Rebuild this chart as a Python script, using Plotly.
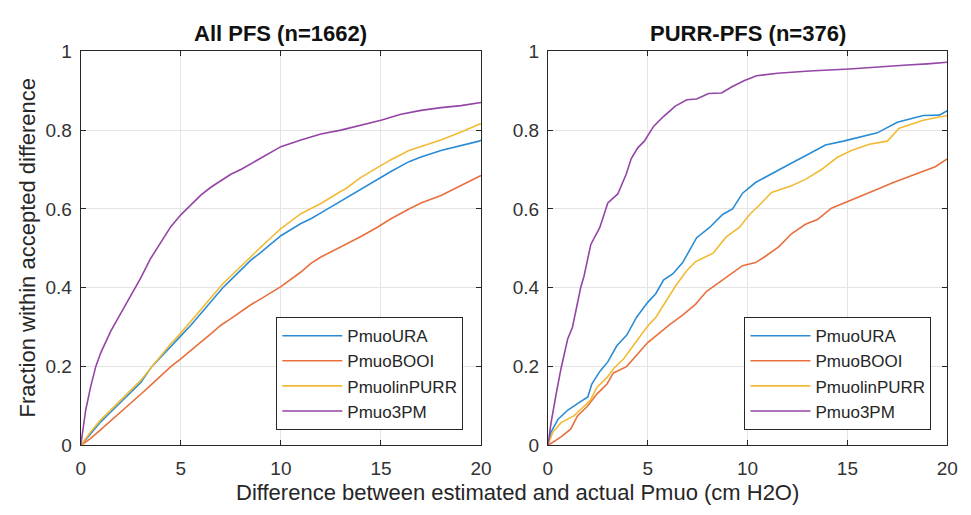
import plotly.graph_objects as go

W, H = 971, 515

# ---------------- data: All PFS (n=1662) ----------------
left_ura_x = [0, 0.5, 1, 1.5, 2, 2.5, 3, 3.55, 4, 4.5, 5, 5.5, 6, 6.5, 7.1, 7.5, 8, 8.5, 9, 9.5, 10, 11, 11.5, 12, 13, 13.2, 14, 14.8, 15.5, 16.4, 17, 18, 19, 19.9, 20]
left_ura_y = [0, 0.03, 0.06, 0.085, 0.11, 0.135, 0.16, 0.2, 0.225, 0.25, 0.278, 0.305, 0.335, 0.365, 0.40, 0.42, 0.445, 0.47, 0.49, 0.51, 0.532, 0.563, 0.575, 0.59, 0.62, 0.626, 0.65, 0.675, 0.695, 0.72, 0.732, 0.748, 0.76, 0.772, 0.774]

left_booi_x = [0, 0.5, 1, 1.5, 2, 2.5, 3, 3.5, 4, 4.5, 5, 5.5, 6, 6.5, 7, 7.5, 8, 8.5, 9, 9.5, 10, 11, 11.5, 12, 13, 13.2, 14, 14.8, 15.5, 16.4, 17, 18, 19, 19.9, 20]
left_booi_y = [0, 0.018, 0.04, 0.062, 0.085, 0.108, 0.13, 0.153, 0.177, 0.2, 0.22, 0.24, 0.262, 0.283, 0.305, 0.322, 0.34, 0.357, 0.372, 0.387, 0.403, 0.44, 0.462, 0.478, 0.503, 0.508, 0.53, 0.553, 0.575, 0.60, 0.615, 0.634, 0.66, 0.683, 0.685]

left_lin_x = [0, 0.5, 1, 1.5, 2, 2.5, 3, 3.55, 4, 4.5, 5, 5.5, 6, 6.5, 7.1, 7.5, 8, 8.5, 9, 9.5, 10, 11, 11.5, 12, 13, 13.2, 14, 14.8, 15.5, 16.4, 17, 18, 19, 19.9, 20]
left_lin_y = [0, 0.035, 0.065, 0.09, 0.115, 0.14, 0.165, 0.2, 0.228, 0.258, 0.285, 0.315, 0.345, 0.375, 0.41, 0.43, 0.455, 0.48, 0.503, 0.527, 0.55, 0.588, 0.600, 0.614, 0.645, 0.65, 0.68, 0.703, 0.725, 0.748, 0.758, 0.775, 0.795, 0.815, 0.817]

left_3pm_x = [0, 0.25, 0.5, 0.75, 1, 1.5, 2, 2.5, 3, 3.5, 4, 4.5, 5, 5.5, 6, 6.5, 7, 7.5, 8, 8.5, 9, 9.5, 10, 11, 12, 13, 14, 15, 16, 17, 18, 19, 20]
left_3pm_y = [0, 0.09, 0.15, 0.2, 0.235, 0.29, 0.335, 0.38, 0.425, 0.475, 0.515, 0.555, 0.585, 0.61, 0.635, 0.655, 0.672, 0.688, 0.70, 0.715, 0.73, 0.745, 0.758, 0.775, 0.79, 0.80, 0.812, 0.825, 0.84, 0.85, 0.857, 0.862, 0.87]

# ---------------- data: PURR-PFS (n=376) ----------------
right_ura_x = [0, 0.16, 0.5, 1, 1.5, 2, 2.2, 2.6, 3, 3.45, 3.95, 4.45, 5, 5.4, 5.8, 6.25, 6.75, 7.05, 7.45, 8.1, 8.75, 9.25, 9.75, 10.4, 11.2, 12, 12.9, 13.9, 14.8, 15.5, 16.5, 17.5, 18.8, 19.6, 20]
right_ura_y = [0, 0.034, 0.066, 0.09, 0.107, 0.123, 0.156, 0.188, 0.212, 0.253, 0.28, 0.326, 0.363, 0.385, 0.42, 0.435, 0.464, 0.49, 0.527, 0.553, 0.586, 0.60, 0.64, 0.667, 0.69, 0.711, 0.735, 0.762, 0.772, 0.78, 0.793, 0.82, 0.837, 0.838, 0.849]

right_booi_x = [0, 0.33, 0.66, 1.15, 1.48, 1.97, 2.46, 2.96, 3.28, 3.94, 4.43, 5, 5.58, 6.08, 6.73, 7.39, 7.95, 8.6, 9.26, 9.75, 10.4, 10.9, 11.56, 12.2, 12.9, 13.5, 14.2, 15.2, 16.5, 17.3, 18.4, 19.4, 20]
right_booi_y = [0, 0.01, 0.022, 0.042, 0.075, 0.099, 0.131, 0.156, 0.184, 0.2, 0.229, 0.261, 0.285, 0.306, 0.33, 0.358, 0.391, 0.415, 0.44, 0.456, 0.464, 0.48, 0.504, 0.537, 0.561, 0.573, 0.602, 0.622, 0.65, 0.667, 0.687, 0.707, 0.727]

right_lin_x = [0, 0.25, 0.66, 1.3, 1.8, 2.13, 2.46, 2.96, 3.3, 3.8, 4.27, 4.76, 5, 5.42, 5.91, 6.4, 6.96, 7.4, 7.62, 8.28, 8.93, 9.59, 10.1, 10.6, 11.2, 12.2, 12.9, 13.7, 14.5, 15.2, 16.1, 17.0, 17.6, 18.8, 20]
right_lin_y = [0, 0.034, 0.058, 0.075, 0.099, 0.115, 0.148, 0.172, 0.196, 0.22, 0.253, 0.285, 0.303, 0.326, 0.367, 0.405, 0.444, 0.466, 0.472, 0.488, 0.529, 0.553, 0.586, 0.61, 0.642, 0.659, 0.675, 0.70, 0.731, 0.748, 0.764, 0.772, 0.805, 0.825, 0.837]

right_3pm_x = [0, 0.16, 0.41, 0.66, 0.99, 1.23, 1.64, 1.81, 2.15, 2.6, 3.0, 3.5, 3.92, 4.17, 4.5, 4.83, 5.3, 5.8, 6.38, 6.96, 7.45, 8.05, 8.7, 9.22, 9.85, 10.45, 11.5, 13.1, 15.1, 16.4, 18.0, 19.0, 20]
right_3pm_y = [0, 0.058, 0.13, 0.196, 0.27, 0.30, 0.40, 0.43, 0.51, 0.553, 0.615, 0.638, 0.688, 0.727, 0.755, 0.772, 0.81, 0.835, 0.861, 0.877, 0.879, 0.893, 0.894, 0.91, 0.926, 0.938, 0.944, 0.95, 0.955, 0.96, 0.965, 0.968, 0.972]

series_names = ["PmuoURA", "PmuoBOOI", "PmuolinPURR", "Pmuo3PM"]
colors = ["#2b8cd4", "#e8703f", "#f2bb35", "#9445a6"]
titles = ["All PFS (n=1662)", "PURR-PFS (n=376)"]
x_ticks = [0, 5, 10, 15, 20]
y_ticks = [0, 0.2, 0.4, 0.6, 0.8, 1]
y_ticktext = ["0", "0.2", "0.4", "0.6", "0.8", "1"]
x_label = "Difference between estimated and actual Pmuo (cm H2O)"
y_label = "Fraction within accepted difference"

left_data = [(left_ura_x, left_ura_y), (left_booi_x, left_booi_y), (left_lin_x, left_lin_y), (left_3pm_x, left_3pm_y)]
right_data = [(right_ura_x, right_ura_y), (right_booi_x, right_booi_y), (right_lin_x, right_lin_y), (right_3pm_x, right_3pm_y)]

FONT = "Liberation Sans, Arial, sans-serif"

fig = go.Figure()
for (xs, ys), name, col in zip(left_data, series_names, colors):
    fig.add_trace(go.Scatter(x=xs, y=ys, mode="lines", name=name,
                             line=dict(color=col, width=1.6),
                             xaxis="x", yaxis="y", legend="legend"))
for (xs, ys), name, col in zip(right_data, series_names, colors):
    fig.add_trace(go.Scatter(x=xs, y=ys, mode="lines", name=name,
                             line=dict(color=col, width=1.6),
                             xaxis="x2", yaxis="y2", legend="legend2"))

def px_x(p):
    return p / W

def px_y(p):
    return 1 - p / H

ax_common = dict(ticks="inside", ticklen=5, tickcolor="#262626",
                 showline=True, linecolor="#262626", linewidth=1, mirror="ticks",
                 showgrid=True, gridcolor="#e4e4e4", gridwidth=1, zeroline=False,
                 tickfont=dict(family=FONT, size=19, color="#333333"))

xdom1 = [px_x(77), px_x(484)]
xdom2 = [px_x(552), px_x(958)]
ydom = [px_y(454), px_y(43)]

legend_common = dict(yanchor="bottom", y=px_y(438), xanchor="right",
                     bordercolor="#262626", borderwidth=1, bgcolor="white",
                     font=dict(family=FONT, size=17, color="#262626"), itemwidth=60,
                     tracegroupgap=0)

fig.update_layout(
    width=W, height=H,
    margin=dict(l=0, r=0, t=0, b=0),
    paper_bgcolor="white", plot_bgcolor="white",
    xaxis=dict(domain=xdom1, range=[0, 20], tickvals=x_ticks, anchor="y", ticklabelstandoff=6, **ax_common),
    yaxis=dict(domain=ydom, range=[0, 1], tickvals=y_ticks, ticktext=y_ticktext, anchor="x", ticklabelstandoff=4, **ax_common),
    xaxis2=dict(domain=xdom2, range=[0, 20], tickvals=x_ticks, anchor="y2", ticklabelstandoff=6, **ax_common),
    yaxis2=dict(domain=ydom, range=[0, 1], tickvals=y_ticks, ticktext=y_ticktext, anchor="x2", ticklabelstandoff=4, **ax_common),
    legend=dict(x=px_x(466), **legend_common),
    legend2=dict(x=px_x(942), **legend_common),
    annotations=[
        dict(text="<b>%s</b>" % titles[0], x=px_x(280), y=px_y(25), xref="paper", yref="paper",
             xanchor="center", yanchor="middle",
             showarrow=False, font=dict(family=FONT, size=22, color="#111111")),
        dict(text="<b>%s</b>" % titles[1], x=px_x(755), y=px_y(25), xref="paper", yref="paper",
             xanchor="center", yanchor="middle",
             showarrow=False, font=dict(family=FONT, size=22, color="#111111")),
        dict(text=x_label, x=px_x(521), y=px_y(503), xref="paper", yref="paper",
             xanchor="center", yanchor="middle",
             showarrow=False, font=dict(family=FONT, size=22, color="#262626")),
        dict(text=y_label, x=px_x(23), y=px_y(248), xref="paper", yref="paper", textangle=-90,
             xanchor="center", yanchor="middle",
             showarrow=False, font=dict(family=FONT, size=22, color="#262626")),
    ],
)

fig.write_html("out.html")
